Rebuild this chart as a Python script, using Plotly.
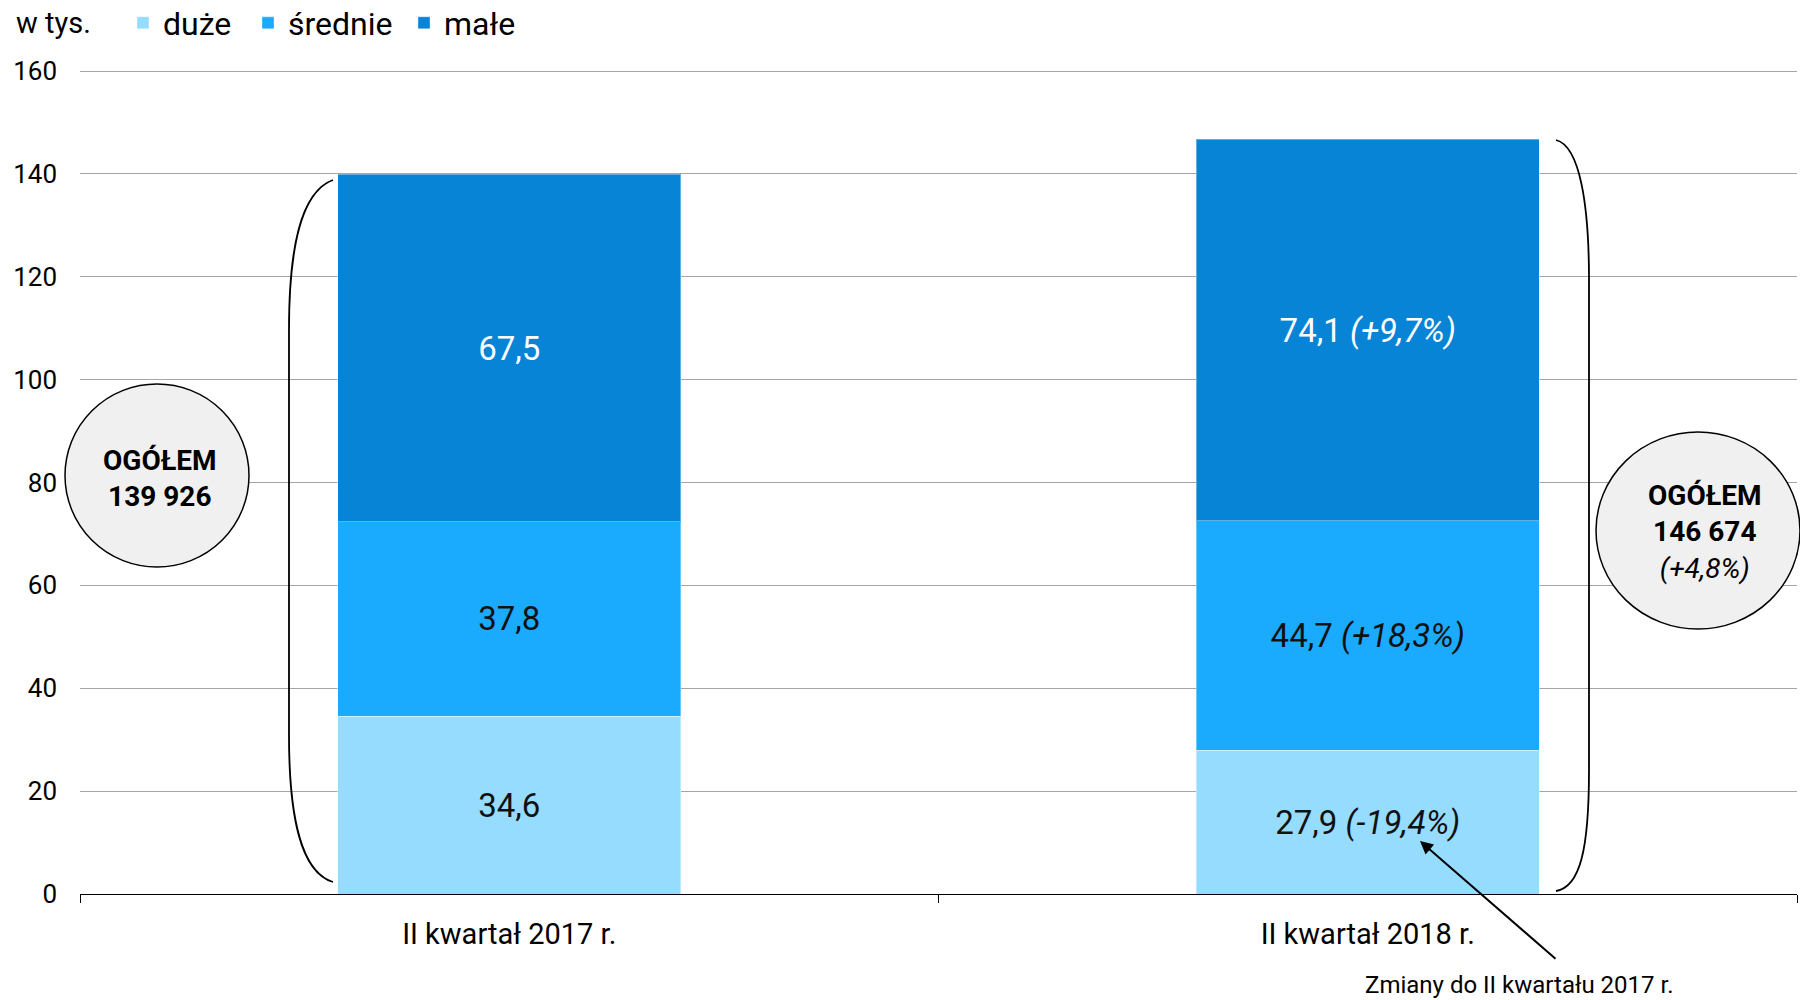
import plotly.graph_objects as go

# ---- data ----
categories = ["II kwartał 2017 r.", "II kwartał 2018 r."]
series_names = ["duże", "średnie", "małe"]
duze = [34.6, 27.9]
srednie = [37.8, 44.7]
male = [67.5, 74.1]
duze_change = [None, "-19,4%"]
srednie_change = [None, "+18,3%"]
male_change = [None, "+9,7%"]
totals = ["139 926", "146 674"]
total_change = [None, "+4,8%"]
y_ticks = [0, 20, 40, 60, 80, 100, 120, 140, 160]

colors = ["#96DCFF", "#1AABFF", "#0784D6"]
text_colors = ["#111111", "#111111", "#FFFFFF"]
FONT = "Roboto"

W, H = 1800, 1000
L, R, T, B = 80, 3, 70, 106
PW, PH = W - L - R, H - T - B


def px(x):
    return (x - L) / PW


def py(y):
    return (H - B - y) / PH


def label(v, c):
    s = f"{v:.1f}".replace(".", ",")
    if c:
        s += f" <i>({c})</i>"
    return s


legend_names = ["legend", "legend2", "legend3"]
legend_x = [123, 248, 404]

fig = go.Figure()
for name, vals, chg, col, tcol, lg in zip(series_names, [duze, srednie, male],
                                          [duze_change, srednie_change, male_change],
                                          colors, text_colors, legend_names):
    fig.add_trace(go.Bar(
        name=name, x=categories, y=vals, legend=lg,
        marker=dict(color=col, line=dict(color="rgba(255,255,255,0.35)", width=1)),
        text=[label(v, c) for v, c in zip(vals, chg)],
        textposition="inside", insidetextanchor="middle",
        textfont=dict(family=FONT, size=33, color=tcol),
        width=0.4, hoverinfo="skip",
    ))

shapes = []
# circles
shapes.append(dict(type="circle", xref="paper", yref="paper",
                   x0=px(65), x1=px(249), y0=py(567), y1=py(384),
                   fillcolor="#F0F0F0", line=dict(color="black", width=1.5), layer="above"))
shapes.append(dict(type="circle", xref="paper", yref="paper",
                   x0=px(1596), x1=px(1800), y0=py(629), y1=py(432),
                   fillcolor="#F0F0F0", line=dict(color="black", width=1.5), layer="above"))


def path(points_cmds):
    out = []
    for cmd, pts in points_cmds:
        coords = " ".join(f"{px(a):.5f},{py(b):.5f}" for a, b in pts)
        out.append(f"{cmd} {coords}")
    return " ".join(out)


left_brace = path([("M", [(333, 180)]),
                   ("C", [(300, 192), (289, 250), (289, 330)]),
                   ("L", [(289, 735)]),
                   ("C", [(289, 815), (300, 872), (333, 882)])])
right_brace = path([("M", [(1556, 140)]),
                    ("C", [(1580, 146), (1589, 205), (1589, 280)]),
                    ("L", [(1589, 770)]),
                    ("C", [(1589, 850), (1580, 887), (1556, 891)])])
for p in (left_brace, right_brace):
    shapes.append(dict(type="path", xref="paper", yref="paper", path=p,
                       line=dict(color="black", width=1.8)))

annotations = [
    dict(xref="paper", yref="paper", x=px(160), y=py(478), xanchor="center", yanchor="middle",
         text=f"<b>OGÓŁEM<br>{totals[0]}</b>", showarrow=False,
         font=dict(family=FONT, size=28, color="black"), align="center"),
    dict(xref="paper", yref="paper", x=px(1705), y=py(532), xanchor="center", yanchor="middle",
         text=f"<b>OGÓŁEM<br>{totals[1]}</b><br><i>({total_change[1]})</i>",
         showarrow=False, font=dict(family=FONT, size=28, color="black"), align="center"),
    dict(xref="paper", yref="paper", x=px(14), y=py(23), xanchor="left", yanchor="middle",
         text="w tys.", showarrow=False, font=dict(family=FONT, size=29, color="black")),
    dict(xref="paper", yref="paper", x=px(1420), y=py(841), ax=137, ay=119,
         text="", showarrow=True, arrowhead=2, arrowsize=1.3, arrowwidth=2,
         arrowcolor="black"),
    dict(xref="paper", yref="paper", x=px(1519), y=py(985), xanchor="center", yanchor="middle",
         text="Zmiany do II kwartału 2017 r.", showarrow=False,
         font=dict(family=FONT, size=24, color="black")),
]

legend_common = dict(orientation="h", xanchor="left", yanchor="middle",
                     traceorder="normal", font=dict(family=FONT, size=32, color="black"),
                     itemclick=False, itemdoubleclick=False, bgcolor="rgba(0,0,0,0)")

fig.update_layout(
    width=W, height=H,
    margin=dict(l=L, r=R, t=T, b=B, pad=0, autoexpand=False),
    barmode="stack", bargap=0.6,
    plot_bgcolor="white", paper_bgcolor="white",
    font=dict(family=FONT, color="black"),
    showlegend=True,
    legend=dict(x=px(legend_x[0]), y=py(23), **legend_common),
    legend2=dict(x=px(legend_x[1]), y=py(23), **legend_common),
    legend3=dict(x=px(legend_x[2]), y=py(23), **legend_common),
    xaxis=dict(showline=True, linecolor="black", linewidth=1.2, ticks="outside",
               tickson="boundaries", ticklen=8, tickcolor="black", ticklabelstandoff=14,
               tickfont=dict(family=FONT, size=29, color="black"), showgrid=False),
    yaxis=dict(range=[0, 160.2], tickvals=y_ticks, showgrid=True, gridcolor="#A6A6A6",
               gridwidth=1, zeroline=False, showline=False,
               tickfont=dict(family=FONT, size=26, color="black"), ticklabelstandoff=22),
    shapes=shapes, annotations=annotations,
)

fig.write_html("out.html", post_script="document.body.style.margin='0';",
               config={"displayModeBar": False})
